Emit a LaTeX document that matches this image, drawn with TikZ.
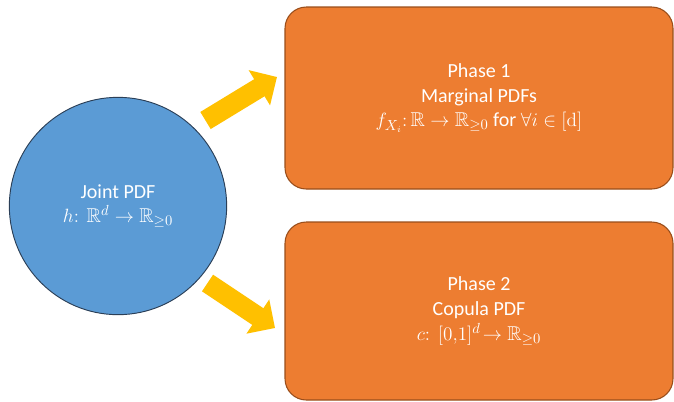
\documentclass[tikz,border=0pt]{standalone}
\usepackage{amssymb}
\usepackage[no-math]{fontspec}
\setmainfont{Carlito}
\usetikzlibrary{arrows.meta}

\definecolor{phaseorange}{HTML}{ED7D31}
\definecolor{phaseedge}{HTML}{9A4E1B}
\definecolor{jointblue}{HTML}{5B9BD5}
\definecolor{jointedge}{HTML}{2B3F57}
\definecolor{flowyellow}{HTML}{FFC000}

\tikzset{
  phasebox/.style={draw=phaseedge, line width=0.8pt, fill=phaseorange, rounded corners=16pt,
    minimum width=291pt, text=white, align=center, font=\fontsize{15}{18.5}\selectfont},
  jointcircle/.style={circle, draw=jointedge, line width=0.7pt, fill=jointblue, minimum size=163pt,
    text=white, align=center, font=\fontsize{15}{18.5}\selectfont},
  flow/.style={draw=flowyellow, line width=15pt, -{Triangle[length=15.5pt,width=30pt]}},
}

\begin{document}
\begin{tikzpicture}[x=0.75pt, y=-0.75pt]
  \useasboundingbox (0,0) rectangle (674,401);

  % joint density on the left
  \node[jointcircle] (joint) at (118,206) {Joint PDF\\ $h\colon\ \mathbb{R}^d \to \mathbb{R}_{\geq 0}$};

  % the two phases
  \node[phasebox, minimum height=136.5pt] (phaseone) at (479,98)
    {Phase 1\\ Marginal PDFs\\ $f_{X_i}\colon \mathbb{R} \to \mathbb{R}_{\geq 0}$ for $\forall i \in [\mathrm{d}]$};
  \node[phasebox, minimum height=133.5pt] (phasetwo) at (479,311)
    {Phase 2\\ Copula PDF\\ $c\colon\ [0{,}1]^d\!\to \mathbb{R}_{\geq 0}$};

  % block arrows
  \coordinate (uptail) at (205.5,120.5);
  \coordinate (uptip) at (277,77);
  \coordinate (downtail) at (207.5,283);
  \coordinate (downtip) at (275,328);
  \draw[flow] (uptail) -- (uptip);
  \draw[flow] (downtail) -- (downtip);
\end{tikzpicture}
\end{document}
